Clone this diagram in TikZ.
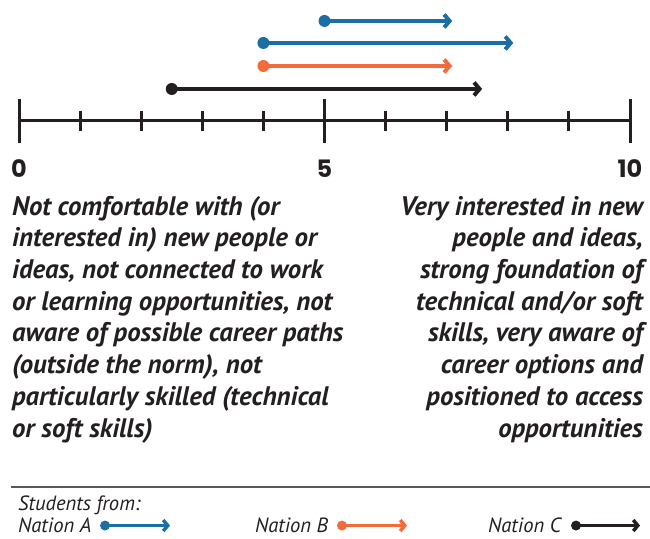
\documentclass[tikz,border=0pt]{standalone}
\usepackage{fontspec}
\setmainfont{PT Sans}
\newfontfamily\numfont{Poppins}
\usetikzlibrary{arrows.meta}
\definecolor{nationA}{HTML}{1B6FA5}
\definecolor{nationB}{HTML}{F26B3D}
\definecolor{nationC}{HTML}{231F20}
\tikzset{
  track/.style={line width=4pt,-{Straight Barb[length=5.5pt,width=13pt]}},
  keytrack/.style={line width=3.5pt,-{Straight Barb[length=4.5pt,width=11pt]}},
  dot/.style={circle,inner sep=0pt,minimum size=12pt},
  numlabel/.style={font=\numfont\fontsize{24}{28}\selectfont\bfseries,text=nationC,inner sep=0pt},
  scaletext/.style={font=\fontsize{26.8}{31.7}\selectfont\bfseries\itshape,text=nationC,inner sep=0pt},
  keytext/.style={font=\fontsize{20.6}{24}\selectfont\itshape,text=nationC,inner sep=0pt,text depth=0pt,anchor=base west}
}
\begin{document}
\begin{tikzpicture}[x=61.1pt,y=61.1pt]
\useasboundingbox (-0.311,-6.841) rectangle (10.327,1.980);
\draw[line width=3pt,color=nationC] (0,0) -- (10,0) ; % the scale
\foreach \x in {0,...,10} % short ticks
\draw[line width=3pt, shift={(\x,0)},color=nationC] (0pt,10pt) -- (0pt,-10pt);
\foreach \x in {0,5,10} % long ticks
\draw[line width=3pt, shift={(\x,0)},color=nationC] (0pt,22pt) -- (0pt,-22pt);
\foreach \n in {0,5,10}
\node[numlabel] (num\n) at (\n,-.777) {\n};
% edit here for the students ranges
\foreach \i/\y/\s/\e/\c in {1/1.637/5/7.09/nationA,2/1.277/4/8.09/nationA,3/.900/4/7.09/nationB,4/.524/2.5/7.58/nationC}
{
\node[dot,fill=\c] (start\i) at (\s,\y) {};
\coordinate (end\i) at (\e,\y);
\draw[track,color=\c] (start\i.center) -- (end\i);
}
% base of a multi-line node is its last line
\node[scaletext,align=left,anchor=base west] (low) at (-.115,-5.172)
{Not comfortable with (or\\interested in) new people or\\ideas, not connected to work\\or learning opportunities, not\\aware of possible career paths\\(outside the norm), not\\particularly skilled (technical\\or soft skills)};
\node[scaletext,align=right,anchor=base east] (high) at (10.213,-5.172)
{Very interested in new\\people and ideas,\\strong foundation of\\technical and/or soft\\skills, very aware of\\career options and\\positioned to access\\opportunities};
% legend
\draw[line width=1.2pt,color=black!65] (-.131,-5.990) -- (10.327,-5.990);
\node[keytext] (students) at (-.016,-6.380) {Students from:};
\foreach \i/\x/\d/\e/\c/\t in {a/-.016/1.408/2.471/nationA/A,b/3.862/5.286/6.350/nationB/B,c/7.676/9.116/10.164/nationC/C}
{
\node[keytext] (key\i) at (\x,-6.735) {Nation \t};
\node[dot,minimum size=10pt,fill=\c] (keydot\i) at (\d,-6.621) {};
\coordinate (keyend\i) at (\e,-6.621);
\draw[keytrack,color=\c] (keydot\i.center) -- (keyend\i);
}
\end{tikzpicture}
\end{document}
